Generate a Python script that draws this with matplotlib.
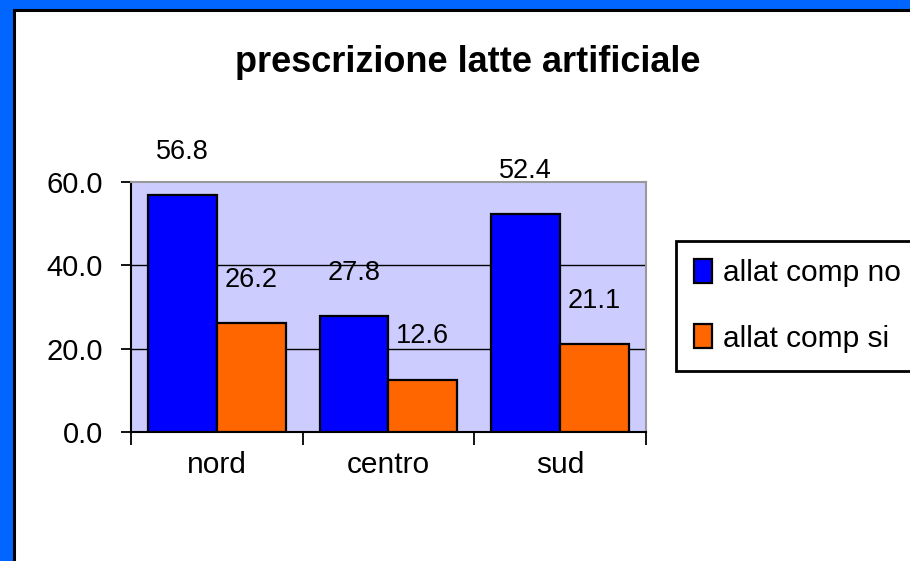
import matplotlib
matplotlib.use('Agg')
import matplotlib.pyplot as plt
import numpy as np
from matplotlib.patches import Rectangle

# dati: prescrizione latte artificiale per area geografica
aree = ['nord', 'centro', 'sud']
comp_no = [56.8, 27.8, 52.4]
comp_si = [26.2, 12.6, 21.1]
serie = ['allat comp no', 'allat comp si']
colori = ['#0000FF', '#FF6600']
y_ticks = [0, 20, 40, 60]

FONT = ['Liberation Sans', 'DejaVu Sans']

W, H = 910, 561
fig = plt.figure(figsize=(W / 100, H / 100), dpi=100, facecolor='#0066FF')

# pannello bianco con bordo nero
fig.patches.append(Rectangle((14.5 / W, -0.1), 1.2, 1 - 9.5 / H + 0.1,
                             transform=fig.transFigure, facecolor='white',
                             edgecolor='black', linewidth=2.2, zorder=-5))

ax = fig.add_axes([131 / W, 1 - 432 / H, (646 - 131) / W, (432 - 182) / H])
ax.set_facecolor('#CCCCFF')

x = np.arange(len(aree))
w = 0.4
b1 = ax.bar(x - w / 2, comp_no, w, color=colori[0], edgecolor='black', linewidth=1.6, label=serie[0], zorder=3)
b2 = ax.bar(x + w / 2, comp_si, w, color=colori[1], edgecolor='black', linewidth=1.6, label=serie[1], zorder=3)

for bars, vals in ((b1, comp_no), (b2, comp_si)):
    for r, v in zip(bars, vals):
        ax.annotate(f'{v:.1f}', (r.get_x() + r.get_width() / 2, v), xytext=(0, 31),
                    textcoords='offset points', ha='center', va='center',
                    fontsize=19.5, family=FONT, annotation_clip=False)

ax.set_xlim(-0.5, 2.5)
ax.set_ylim(0, 60)
ax.set_yticks(y_ticks)
ax.set_yticklabels([f'{t:.1f}' for t in y_ticks], family=FONT, fontsize=21)
ax.tick_params(axis='y', direction='out', length=7, width=1.3, pad=13)
ax.set_xticks(x)
ax.set_xticklabels(aree, family=FONT, fontsize=21.5)
ax.set_xticks([-0.5, 0.5, 1.5, 2.5], minor=True)
ax.tick_params(axis='x', which='major', length=0, pad=14)
ax.tick_params(axis='x', which='minor', direction='out', length=9, width=1.3)

for yv in y_ticks[1:-1]:
    ax.axhline(yv, color='black', linewidth=1.0, zorder=1)

for s in ('left', 'bottom'):
    ax.spines[s].set_color('black')
    ax.spines[s].set_linewidth(1.5)
for s in ('top', 'right'):
    ax.spines[s].set_color('#999999')
    ax.spines[s].set_linewidth(1.5)

fig.text(468 / W, 1 - 63 / H, 'prescrizione latte artificiale', ha='center', va='center',
         fontsize=26, fontweight='bold', family=FONT)

leg = fig.legend(handles=[b1, b2], labels=serie, loc='upper left',
                 bbox_to_anchor=(676 / W, 1 - 241 / H), borderaxespad=0,
                 prop={'family': FONT, 'size': 21.5}, frameon=True, fancybox=False,
                 framealpha=1, handlelength=0.62, handleheight=0.85, handletextpad=0.35,
                 labelspacing=1.25, borderpad=0.6)
leg.get_frame().set_edgecolor('black')
leg.get_frame().set_linewidth(2)
leg.get_frame().set_facecolor('white')

fig.savefig('out.png', dpi=100, facecolor=fig.get_facecolor())
